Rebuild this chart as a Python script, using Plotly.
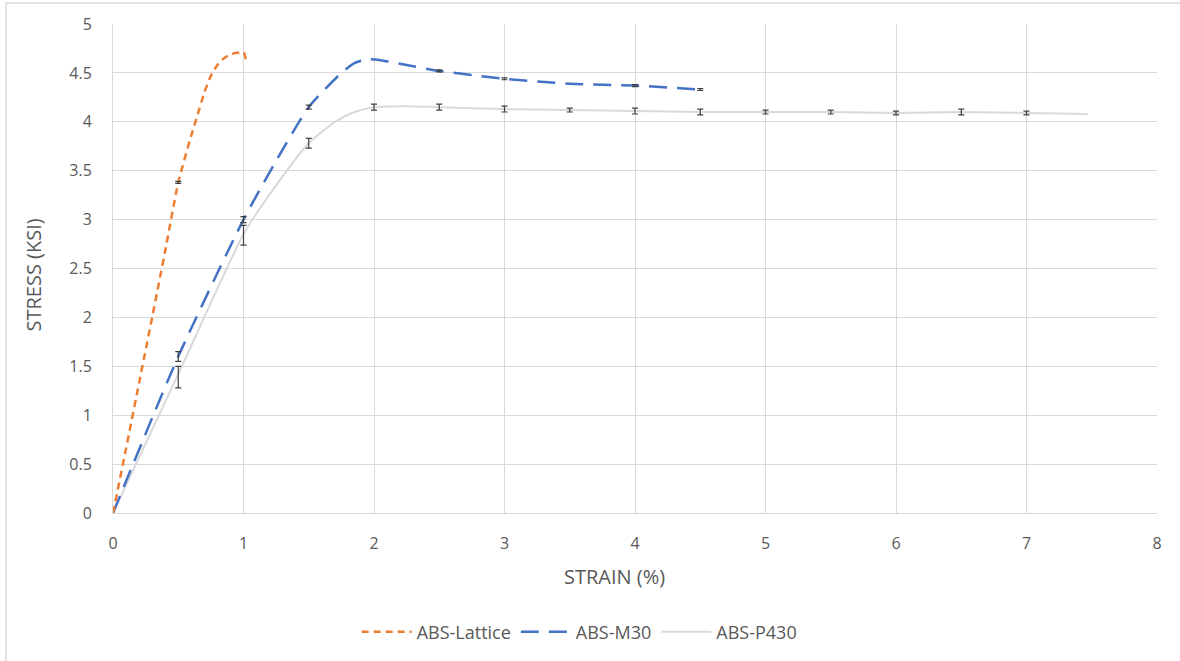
import plotly.graph_objects as go

# ---- data ----
lattice_x = [0, 0.1, 0.2, 0.3, 0.4, 0.5, 0.6, 0.65, 0.7, 0.75, 0.8, 0.85, 0.9, 1.0, 1.02]
lattice_y = [0, 0.66, 1.33, 2.0, 2.68, 3.38, 3.86, 4.08, 4.3, 4.47, 4.58, 4.65, 4.69, 4.71, 4.63]
lattice_err_x = [0.5]
lattice_err_y = [3.38]
lattice_err = [0.01]

m30_x = [0, 0.5, 1.0, 1.25, 1.5, 1.75, 1.85, 1.95, 2.05, 2.25, 2.5, 3.0, 3.5, 4.0, 4.5]
m30_y = [0, 1.6, 3.0, 3.6, 4.15, 4.5, 4.6, 4.64, 4.63, 4.58, 4.52, 4.44, 4.39, 4.37, 4.33]
m30_err_x = [0.5, 1.0, 1.5, 2.5, 3.0, 4.0, 4.5]
m30_err_y = [1.6, 3.0, 4.15, 4.52, 4.44, 4.37, 4.33]
m30_err = [0.05, 0.03, 0.02, 0.01, 0.01, 0.01, 0.01]

p430_x = [0, 0.5, 1.0, 1.25, 1.5, 1.7, 1.85, 2.0, 2.25, 2.5, 3, 3.5, 4, 4.5, 5, 5.5, 6, 6.5, 7, 7.47]
p430_y = [0, 1.42, 2.85, 3.35, 3.78, 4.0, 4.1, 4.15, 4.16, 4.15, 4.13, 4.12, 4.11, 4.10, 4.10, 4.10, 4.09, 4.10, 4.09, 4.08]
p430_err_x = [0.5, 1.0, 1.5, 2.0, 2.5, 3, 3.5, 4, 4.5, 5, 5.5, 6, 6.5, 7]
p430_err_y = [1.39, 2.84, 3.78, 4.15, 4.15, 4.13, 4.12, 4.11, 4.10, 4.10, 4.10, 4.09, 4.10, 4.09]
p430_err = [0.11, 0.1, 0.05, 0.03, 0.03, 0.03, 0.02, 0.03, 0.03, 0.02, 0.02, 0.02, 0.03, 0.02]

x_ticks = [0, 1, 2, 3, 4, 5, 6, 7, 8]
y_ticks = [0, 0.5, 1, 1.5, 2, 2.5, 3, 3.5, 4, 4.5, 5]
x_title = "STRAIN (%)"
y_title = "STRESS (KSI)"

ORANGE = "#ED7D31"
BLUE = "#4472C4"
GRAY = "#D9D9D9"
TXT = "#595959"
ERR = "#404040"

fig = go.Figure()

fig.add_trace(go.Scatter(x=p430_x, y=p430_y, mode="lines", name="ABS-P430",
                         line=dict(color=GRAY, width=2, shape="spline", smoothing=0.6)))
fig.add_trace(go.Scatter(x=m30_x, y=m30_y, mode="lines", name="ABS-M30",
                         line=dict(color=BLUE, width=2.5, dash="18px,10px", shape="spline", smoothing=0.6)))
fig.add_trace(go.Scatter(x=lattice_x, y=lattice_y, mode="lines", name="ABS-Lattice",
                         line=dict(color=ORANGE, width=2.5, dash="7px,5px", shape="spline", smoothing=0.5)))

for ex, ey, ee in [(p430_err_x, p430_err_y, p430_err),
                   (m30_err_x, m30_err_y, m30_err),
                   (lattice_err_x, lattice_err_y, lattice_err)]:
    fig.add_trace(go.Scatter(x=ex, y=ey, mode="markers", showlegend=False, hoverinfo="skip",
                             marker=dict(size=1, opacity=0),
                             error_y=dict(type="data", array=ee, visible=True,
                                          color=ERR, thickness=1.2, width=3)))

font = "Open Sans, Liberation Sans, sans-serif"
fig.update_layout(
    width=1180, height=661,
    paper_bgcolor="white", plot_bgcolor="white",
    margin=dict(l=113, r=23, t=24, b=147),
    font=dict(family=font, color=TXT, size=16),
    legend=dict(orientation="h", x=0.447, xanchor="center", y=-0.241, yanchor="middle",
                traceorder="reversed", font=dict(size=18, color=TXT),
                itemwidth=50, bgcolor="rgba(0,0,0,0)"),
    showlegend=True,
    shapes=[dict(type="rect", xref="paper", yref="paper",
                 x0=(6 - 113) / 1044, x1=1.05, y0=-0.32, y1=1 + (24 - 3) / 490,
                 line=dict(color=GRAY, width=1.5), fillcolor="rgba(0,0,0,0)", layer="below")],
    annotations=[
        dict(text=x_title, xref="paper", yref="paper", x=(614 - 113) / 1044, y=(514 - 578) / 490,
             xanchor="center", yanchor="middle", showarrow=False, font=dict(size=20, color=TXT)),
        dict(text=y_title, xref="paper", yref="paper", x=(33 - 113) / 1044, y=(514 - 276) / 490,
             xanchor="center", yanchor="middle", showarrow=False, textangle=-90,
             font=dict(size=20, color=TXT)),
    ],
)
fig.update_xaxes(range=[0, 8], tickvals=x_ticks, showgrid=True, gridcolor=GRAY, gridwidth=1,
                 zeroline=False, showline=True, linecolor=GRAY, mirror=False,
                 ticks="", ticklabelstandoff=16)
fig.update_yaxes(range=[0, 5], tickvals=y_ticks, showgrid=True, gridcolor=GRAY, gridwidth=1,
                 zeroline=False, showline=True, linecolor=GRAY,
                 ticks="", ticklabelstandoff=17)

fig.write_html("out.html", config={"displayModeBar": False},
               post_script="document.body.style.margin='0px';")
